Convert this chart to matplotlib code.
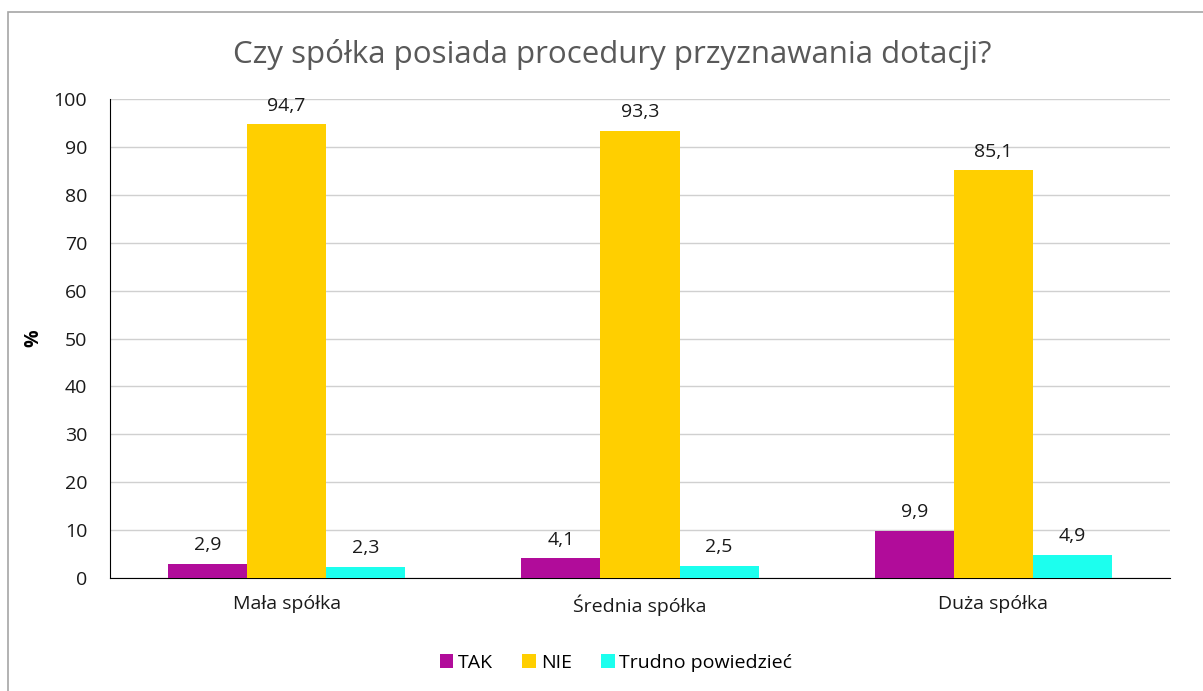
import matplotlib
matplotlib.use('Agg')
import matplotlib.pyplot as plt
from matplotlib.patches import Rectangle
import numpy as np

# Dane do wykresu
kategorie = ['Mała spółka', 'Średnia spółka', 'Duża spółka']
tak = [2.9, 4.1, 9.9]
nie = [94.7, 93.3, 85.1]
trudno = [2.3, 2.5, 4.9]
serie = ['TAK', 'NIE', 'Trudno powiedzieć']
kolory = ['#B10C9A', '#FFCF00', '#1CFFEE']

plt.rcParams['font.family'] = ['Open Sans', 'DejaVu Sans']

fig = plt.figure(figsize=(12.03, 6.91), dpi=100)
ax = fig.add_axes([110 / 1203, 1 - 578 / 691, 1060 / 1203, 479 / 691])

# Ramka wokół wykresu
fig.patches.append(Rectangle((8 / 1203, -0.01), 1.0, 1 - 12 / 691 + 0.01,
                             transform=fig.transFigure, fill=False,
                             edgecolor='#A6A6A6', linewidth=1.2))

x = np.arange(len(kategorie))
w = 0.224
for i, (vals, name, c) in enumerate(zip([tak, nie, trudno], serie, kolory)):
    bars = ax.bar(x + (i - 1) * w, vals, w, color=c, label=name, zorder=3)
    for b, v in zip(bars, vals):
        ax.annotate(f'{v:.1f}'.replace('.', ','), (b.get_x() + b.get_width() / 2, v),
                    xytext=(0, 7), textcoords='offset points', ha='center', va='bottom',
                    fontsize=14, color='#1a1a1a')

ax.set_xlim(-0.5, 2.5)
ax.set_ylim(0, 100)
ax.set_yticks(range(0, 101, 10))
ax.set_xticks(x)
ax.set_xticklabels(kategorie)
ax.tick_params(axis='both', length=0, labelsize=14, colors='#1a1a1a')
ax.tick_params(axis='x', pad=12)
ax.tick_params(axis='y', pad=16.5)
ax.grid(axis='y', color='#D0D0D0', linewidth=1, zorder=0)
for s in ['top', 'right']:
    ax.spines[s].set_visible(False)
ax.spines['left'].set_color('black')
ax.spines['bottom'].set_color('black')

fig.text(33 / 1203, 1 - 338 / 691, '%', rotation=90, fontsize=14, fontweight='bold',
         ha='center', va='center')
fig.text(612 / 1203, 1 - 55 / 691, 'Czy spółka posiada procedury przyznawania dotacji?',
         fontsize=22.5, color='#595959', ha='center', va='center')

fig.legend(loc='center', bbox_to_anchor=(616 / 1203, 1 - 663 / 691), ncol=3,
           frameon=False, fontsize=14, handlelength=0.7, handleheight=0.7,
           handletextpad=0.25, columnspacing=1.5)

fig.savefig('out.png', dpi=100)
